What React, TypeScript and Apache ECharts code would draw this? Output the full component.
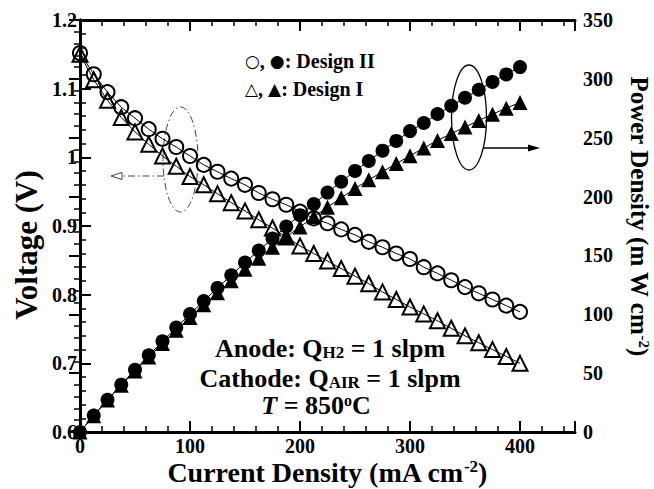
import React, { useEffect, useRef } from 'react';
import * as echarts from 'echarts';

// Current density (mA cm-2)
const current = [0, 12.5, 25, 37.5, 50, 62.5, 75, 87.5, 100, 112.5, 125, 137.5, 150, 162.5, 175, 187.5, 200,
  212.5, 225, 237.5, 250, 262.5, 275, 287.5, 300, 312.5, 325, 337.5, 350, 362.5, 375, 387.5, 400];

// Voltage (V)
const voltageDesignII = [1.152, 1.121, 1.095, 1.073, 1.057, 1.041, 1.027, 1.015, 1.002, 0.989, 0.979, 0.969, 0.960,
  0.948, 0.939, 0.931, 0.921, 0.911, 0.904, 0.895, 0.887, 0.877, 0.869, 0.860, 0.852, 0.840, 0.831, 0.821, 0.811,
  0.802, 0.793, 0.784, 0.775];
const voltageDesignI = [1.150, 1.113, 1.083, 1.058, 1.037, 1.019, 1.002, 0.987, 0.972, 0.960, 0.947, 0.934, 0.922,
  0.909, 0.897, 0.884, 0.871, 0.860, 0.849, 0.838, 0.827, 0.816, 0.804, 0.793, 0.782, 0.772, 0.762, 0.751, 0.740,
  0.730, 0.720, 0.710, 0.700];

// Power density (mW cm-2)
const powerDesignII = [0, 14.0, 27.4, 40.2, 52.9, 65.1, 77.0, 88.8, 100.2, 111.3, 122.4, 133.2, 144.0, 154.1, 164.3,
  174.6, 184.2, 193.6, 203.4, 212.6, 221.8, 230.2, 239.0, 247.3, 255.6, 262.5, 270.1, 277.1, 283.9, 290.7, 297.4,
  303.8, 310.0];
const powerDesignI = [0, 13.9, 27.1, 39.7, 51.9, 63.7, 75.2, 86.4, 97.2, 108.0, 118.4, 128.4, 138.3, 147.7, 157.0,
  165.8, 174.2, 182.8, 191.0, 199.0, 206.8, 214.2, 221.1, 228.0, 234.6, 241.3, 247.7, 253.5, 259.0, 264.6, 270.0,
  275.1, 280.0];

const FONT = "'Liberation Serif', 'Times New Roman', 'DejaVu Serif', serif";
const SYM_FONT = "'DejaVu Sans', sans-serif";

export default function App() {
  const ref = useRef<HTMLDivElement>(null);

  useEffect(() => {
    const chart = echarts.init(ref.current!, null, { renderer: 'svg' });
    const pair = (ys: number[]) => current.map((x, i) => [x, ys[i]]);

    const labelStyle = { fontFamily: FONT, fontWeight: 'bold' as const, fontSize: 20, color: '#000' };
    const axisLine = { show: true, lineStyle: { color: '#000', width: 3 } };
    const majorTick = { show: true, inside: true, length: 11, lineStyle: { color: '#000', width: 2 } };
    const minorTick = { show: true, splitNumber: 5, length: 6, lineStyle: { color: '#000', width: 1.5 } };

    const xBase = { type: 'value' as const, min: 0, max: 450, splitLine: { show: false } };

    const txt = (x: number, y: number, text: string, size: number, extra: any = {}) => ({
      type: 'text', x, y, silent: true, ...extra,
      style: {
        text, fontFamily: FONT, fontWeight: 'bold', fontSize: size, fill: '#000',
        align: 'center', verticalAlign: 'middle', ...(extra.style || {}),
      },
    });
    const supStyle = (s: number) => ({ fontFamily: FONT, fontWeight: 'bold', fontSize: s, verticalAlign: 'top', fill: '#000' });
    const subStyle = (s: number) => ({ fontFamily: FONT, fontWeight: 'bold', fontSize: s, verticalAlign: 'bottom', fill: '#000' });
    const symStyle = { fontFamily: SYM_FONT, fontSize: 17, fill: '#000' };

    const option: any = {
      animation: false,
      backgroundColor: '#fff',
      grid: { left: 80, right: 79, top: 20, bottom: 57 },
      xAxis: [
        {
          ...xBase, position: 'bottom', interval: 100,
          axisLine, axisTick: majorTick,
          axisLabel: { ...labelStyle, margin: 4, formatter: (v: number) => (v > 400 ? '' : String(v)) },
        },
        {
          ...xBase, position: 'bottom', interval: 20,
          axisLine: { show: false },
          axisTick: { show: true, inside: true, length: 6, lineStyle: { color: '#000', width: 1.5 } },
          axisLabel: { show: false },
        },
        {
          ...xBase, position: 'top', interval: 100,
          axisLine, axisTick: majorTick, axisLabel: { show: false },
        },
        {
          ...xBase, position: 'top', interval: 20,
          axisLine: { show: false },
          axisTick: { show: true, inside: true, length: 6, lineStyle: { color: '#000', width: 1.5 } },
          axisLabel: { show: false },
        },
      ],
      yAxis: [
        {
          type: 'value', position: 'left', min: 0.6, max: 1.2, interval: 0.1,
          splitLine: { show: false }, axisLine, axisTick: majorTick, minorTick,
          axisLabel: {
            ...labelStyle, margin: 3,
            formatter: (v: number) => (Math.abs(v - 1) < 1e-9 ? '1' : v.toFixed(1)),
          },
        },
        {
          type: 'value', position: 'right', min: 0, max: 350, interval: 50,
          splitLine: { show: false }, axisLine, axisTick: majorTick, minorTick,
          axisLabel: { ...labelStyle, margin: 8 },
        },
      ],
      series: [
        {
          name: 'Voltage Design II', type: 'line', xAxisIndex: 0, yAxisIndex: 0,
          data: pair(voltageDesignII), symbol: 'circle', symbolSize: 14,
          lineStyle: { color: '#000', width: 1 },
          itemStyle: { color: 'rgba(0,0,0,0)', borderColor: '#000', borderWidth: 2 },
          emphasis: { disabled: true }, silent: true,
        },
        {
          name: 'Voltage Design I', type: 'line', xAxisIndex: 0, yAxisIndex: 0,
          data: pair(voltageDesignI), symbol: 'triangle', symbolSize: 15,
          lineStyle: { color: '#000', width: 1 },
          itemStyle: { color: 'rgba(0,0,0,0)', borderColor: '#000', borderWidth: 2 },
          emphasis: { disabled: true }, silent: true,
        },
        {
          name: 'Power Design II', type: 'line', xAxisIndex: 0, yAxisIndex: 1,
          data: pair(powerDesignII), symbol: 'circle', symbolSize: 14,
          lineStyle: { color: '#000', width: 1 },
          itemStyle: { color: '#000' },
          emphasis: { disabled: true }, silent: true,
        },
        {
          name: 'Power Design I', type: 'line', xAxisIndex: 0, yAxisIndex: 1,
          data: pair(powerDesignI), symbol: 'triangle', symbolSize: 15,
          lineStyle: { color: '#000', width: 1 },
          itemStyle: { color: '#000' },
          emphasis: { disabled: true }, silent: true,
        },
      ],
      graphic: [
        // dash-dot ellipse and arrow pointing to the voltage axis
        {
          type: 'ellipse', silent: true, shape: { cx: 180.5, cy: 159.5, rx: 17.5, ry: 52.5 },
          style: { fill: 'none', stroke: '#444', lineWidth: 1, lineDash: [7, 3, 1.5, 3] },
        },
        {
          type: 'line', silent: true, shape: { x1: 164, y1: 176, x2: 122, y2: 176 },
          style: { stroke: '#444', lineWidth: 1, lineDash: [7, 3, 1.5, 3] },
        },
        {
          type: 'polygon', silent: true, shape: { points: [[111, 176], [122, 172.5], [122, 179.5]] },
          style: { fill: '#fff', stroke: '#444', lineWidth: 1 },
        },
        // solid ellipse and arrow pointing to the power axis
        {
          type: 'ellipse', silent: true, shape: { cx: 469, cy: 117.5, rx: 17.5, ry: 52.5 },
          style: { fill: 'none', stroke: '#000', lineWidth: 1.3 },
        },
        {
          type: 'line', silent: true, shape: { x1: 483, y1: 148, x2: 530, y2: 148 },
          style: { stroke: '#000', lineWidth: 1.3 },
        },
        {
          type: 'polygon', silent: true, shape: { points: [[540, 148], [528, 144.5], [528, 151.5]] },
          style: { fill: '#000' },
        },
        // legend
        txt(245, 61, '{sym|○}, {sym|●}: Design II', 20, { style: { align: 'left', rich: { sym: symStyle } } }),
        txt(245, 89, '{sym|△}, {sym|▲}: Design I', 20, { style: { align: 'left', rich: { sym: symStyle } } }),
        // operating conditions
        txt(330, 348, 'Anode: Q{sub|H2} = 1 slpm', 26, { style: { rich: { sub: subStyle(17) } } }),
        txt(330, 378, 'Cathode: Q{sub|AIR} = 1 slpm', 26, { style: { rich: { sub: subStyle(17) } } }),
        txt(316, 405, '{it|T} = 850{sup|o}C', 26, {
          style: {
            rich: {
              it: { fontFamily: FONT, fontWeight: 'bold', fontStyle: 'italic', fontSize: 26, fill: '#000' },
              sup: supStyle(16),
            },
          },
        }),
        // axis titles
        txt(327, 472, 'Current Density (mA cm{sup|-2})', 28, { style: { rich: { sup: supStyle(17) } } }),
        txt(26, 245, 'Voltage (V)', 31, { rotation: Math.PI / 2 }),
        txt(639, 216, 'Power Density (m W cm{sup|-2})', 25, {
          rotation: -Math.PI / 2, style: { rich: { sup: supStyle(15) } },
        }),
      ],
    };

    chart.setOption(option);
    return () => chart.dispose();
  }, []);

  return (
    <div
      ref={ref}
      style={{ position: 'fixed', left: 0, top: 0, width: 654, height: 489, background: '#fff' }}
    />
  );
}
